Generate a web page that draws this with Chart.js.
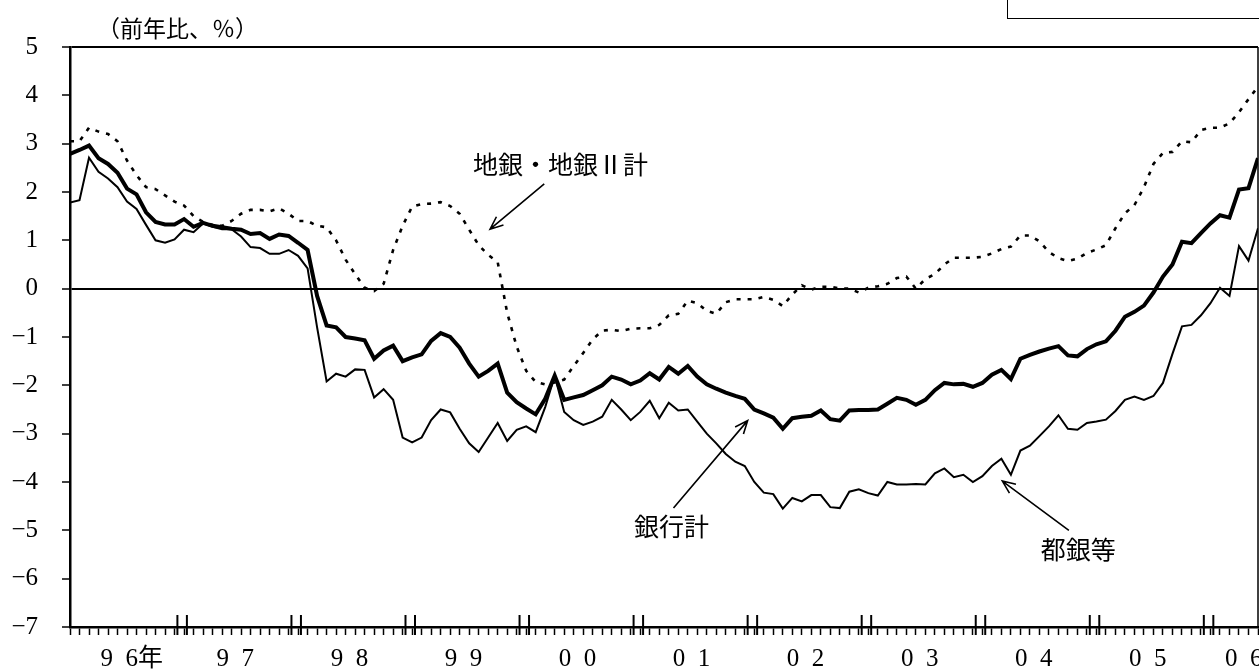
<!DOCTYPE html>
<html>
<head>
<meta charset="utf-8">
<script src="https://cdn.jsdelivr.net/npm/chart.js@4.4.1/dist/chart.umd.min.js"></script>
<style>
  html, body { margin: 0; padding: 0; background: #fff; }
  #wrap { position: relative; width: 1259px; height: 672px; overflow: hidden; }
  #unit { position: absolute; left: 97px; top: 10px; font: 23px "Noto Sans CJK JP", sans-serif; color: #000; }
  #box { position: absolute; left: 1007px; top: -4px; width: 260px; height: 21px; border: 1.5px solid #000; }
</style>
</head>
<body>
<div id="wrap">
  <canvas id="chart" width="1259" height="672"></canvas>
  <div id="unit">（前年比、％）</div>
  <div id="box"></div>
</div>
<script>
// monthly, 1996/01 - 2006/06
const years = ['96年', '97', '98', '99', '00', '01', '02', '03', '04', '05', '06'];

// 銀行計
const bankTotal = [
  2.79, 2.87, 2.96, 2.70, 2.58, 2.40, 2.07, 1.95, 1.58, 1.38, 1.33, 1.33,
  1.44, 1.28, 1.36, 1.30, 1.27, 1.24, 1.22, 1.13, 1.15, 1.03, 1.12, 1.09,
  0.95, 0.80, -0.15, -0.76, -0.80, -1.00, -1.03, -1.07, -1.45, -1.28, -1.18, -1.50,
  -1.42, -1.36, -1.08, -0.92, -1.00, -1.22, -1.55, -1.82, -1.70, -1.55, -2.15, -2.35,
  -2.48, -2.60, -2.28, -1.80, -2.30, -2.25, -2.20, -2.10, -2.00, -1.82, -1.88, -1.98,
  -1.90, -1.75, -1.88, -1.62, -1.76, -1.60, -1.82, -1.98, -2.07, -2.15, -2.22, -2.28,
  -2.50, -2.58, -2.67, -2.90, -2.68, -2.65, -2.63, -2.52, -2.70, -2.73, -2.52, -2.51,
  -2.51, -2.50, -2.38, -2.26, -2.30, -2.40, -2.30, -2.10, -1.95, -1.98, -1.97, -2.03,
  -1.95, -1.78, -1.68, -1.87, -1.45, -1.37, -1.30, -1.24, -1.19, -1.38, -1.40, -1.25,
  -1.15, -1.09, -0.87, -0.58, -0.48, -0.35, -0.08, 0.25, 0.50, 0.97, 0.94, 1.15,
  1.35, 1.52, 1.47, 2.05, 2.08, 2.70
];

// 都銀等
const cityBanks = [
  1.78, 1.83, 2.71, 2.42, 2.28, 2.10, 1.80, 1.65, 1.32, 1.00, 0.95, 1.02,
  1.22, 1.17, 1.35, 1.28, 1.23, 1.23, 1.08, 0.86, 0.84, 0.72, 0.72, 0.80,
  0.68, 0.42, -0.80, -1.92, -1.76, -1.82, -1.67, -1.68, -2.25, -2.08, -2.30, -3.08,
  -3.18, -3.08, -2.72, -2.50, -2.56, -2.90, -3.20, -3.38, -3.08, -2.78, -3.15, -2.92,
  -2.85, -2.97, -2.45, -1.80, -2.55, -2.72, -2.82, -2.75, -2.65, -2.30, -2.50, -2.72,
  -2.55, -2.32, -2.68, -2.36, -2.52, -2.50, -2.75, -3.00, -3.20, -3.42, -3.58, -3.67,
  -4.00, -4.22, -4.25, -4.55, -4.33, -4.40, -4.27, -4.27, -4.52, -4.54, -4.20, -4.15,
  -4.23, -4.28, -4.00, -4.05, -4.05, -4.04, -4.05, -3.82, -3.72, -3.90, -3.85, -4.00,
  -3.88, -3.67, -3.52, -3.85, -3.35, -3.25, -3.05, -2.85, -2.62, -2.90, -2.92, -2.78,
  -2.75, -2.71, -2.53, -2.30, -2.23, -2.30, -2.22, -1.95, -1.35, -0.78, -0.75, -0.55,
  -0.30, 0.02, -0.15, 0.88, 0.58, 1.25
];

// 地銀・地銀II計
const regionalBanks = [
  3.05, 3.05, 3.33, 3.25, 3.20, 3.05, 2.65, 2.35, 2.10, 2.06, 1.93, 1.80,
  1.72, 1.50, 1.38, 1.32, 1.30, 1.40, 1.55, 1.63, 1.63, 1.60, 1.66, 1.55,
  1.40, 1.40, 1.30, 1.27, 1.00, 0.60, 0.30, 0.02, -0.05, 0.10, 0.80, 1.30,
  1.70, 1.75, 1.76, 1.79, 1.71, 1.55, 1.22, 0.90, 0.70, 0.55, -0.50, -1.20,
  -1.70, -1.93, -1.98, -1.94, -1.88, -1.60, -1.33, -1.05, -0.87, -0.85, -0.88, -0.83,
  -0.82, -0.82, -0.75, -0.55, -0.52, -0.25, -0.30, -0.46, -0.52, -0.28, -0.22, -0.22,
  -0.22, -0.17, -0.23, -0.36, -0.12, 0.07, -0.02, 0.04, 0.04, 0.00, 0.00, -0.08,
  0.02, 0.05, 0.10, 0.22, 0.25, 0.00, 0.20, 0.30, 0.50, 0.64, 0.64, 0.64,
  0.66, 0.73, 0.82, 0.87, 1.10, 1.10, 0.98, 0.76, 0.63, 0.57, 0.62, 0.74,
  0.81, 0.90, 1.25, 1.56, 1.73, 2.10, 2.58, 2.81, 2.83, 3.05, 3.03, 3.28,
  3.33, 3.33, 3.42, 3.65, 3.92, 4.18
];

const lastIdx = bankTotal.length - 1;
const toXY = arr => arr.map((v, i) => ({ x: i, y: v }));

// where the year labels sit (month index)
const yearLabelPos = years.map((y, k) => k === 0 ? 6.5 : Math.min(12 * k + 5.4, lastIdx - 1.5));
const labelAt = {};
yearLabelPos.forEach((p, k) => { labelAt[p.toFixed(2)] = years[k].replace(/(\d)(\d)/, '$1\u2002$2'); });

const annotations = [
  { text: '地銀・地銀Ⅱ計', at: [51.6, 2.56], from: [49.9, 2.17], to: [44.2, 1.23] },
  { text: '銀行計', at: [63.3, -4.92], from: [63.5, -4.54], to: [71.3, -2.73] },
  { text: '都銀等', at: [106.1, -5.40], from: [105.1, -5.0], to: [98.1, -3.98] }
];

const extrasPlugin = {
  id: 'extras',
  afterDatasetsDraw(chart) {
    const { ctx, scales: { x, y }, chartArea } = chart;
    ctx.save();
    // tall double ticks at each year boundary
    ctx.strokeStyle = '#000';
    ctx.lineWidth = 2;
    for (let k = 0; k < years.length - 1; k++) {
      [11.3, 12.3].forEach(d => {
        const px = x.getPixelForValue(12 * k + d);
        ctx.beginPath();
        ctx.moveTo(px, chartArea.bottom - 12);
        ctx.lineTo(px, chartArea.bottom + 8);
        ctx.stroke();
      });
    }
    // right frame
    ctx.lineWidth = 1.5;
    ctx.beginPath();
    ctx.moveTo(chartArea.right, chartArea.top);
    ctx.lineTo(chartArea.right, chartArea.bottom);
    ctx.stroke();

    // labels with arrows
    ctx.fillStyle = '#000';
    ctx.font = '25px "Noto Sans CJK JP", sans-serif';
    ctx.textAlign = 'center';
    ctx.textBaseline = 'middle';
    ctx.lineWidth = 1.6;
    annotations.forEach(a => {
      ctx.fillText(a.text, x.getPixelForValue(a.at[0]), y.getPixelForValue(a.at[1]));
      const x1 = x.getPixelForValue(a.from[0]), y1 = y.getPixelForValue(a.from[1]);
      const x2 = x.getPixelForValue(a.to[0]), y2 = y.getPixelForValue(a.to[1]);
      const ang = Math.atan2(y2 - y1, x2 - x1);
      const head = 14;
      ctx.beginPath();
      ctx.moveTo(x1, y1);
      ctx.lineTo(x2, y2);
      ctx.moveTo(x2 - head * Math.cos(ang - 0.4), y2 - head * Math.sin(ang - 0.4));
      ctx.lineTo(x2, y2);
      ctx.lineTo(x2 - head * Math.cos(ang + 0.4), y2 - head * Math.sin(ang + 0.4));
      ctx.stroke();
    });
    ctx.restore();
  }
};

new Chart(document.getElementById('chart').getContext('2d'), {
  type: 'line',
  data: {
    datasets: [
      {
        label: '地銀・地銀II計',
        data: toXY(regionalBanks),
        borderColor: '#000',
        borderWidth: 2.6,
        borderDash: [4, 7],
        pointRadius: 0,
        tension: 0
      },
      {
        label: '都銀等',
        data: toXY(cityBanks),
        borderColor: '#000',
        borderWidth: 2,
        pointRadius: 0,
        tension: 0
      },
      {
        label: '銀行計',
        data: toXY(bankTotal),
        borderColor: '#000',
        borderWidth: 4,
        pointRadius: 0,
        tension: 0
      }
    ]
  },
  options: {
    responsive: false,
    animation: false,
    devicePixelRatio: 1,
    layout: { padding: { top: 47, right: 1, left: 0, bottom: 0 } },
    plugins: {
      legend: { display: false },
      tooltip: { enabled: false }
    },
    scales: {
      x: {
        type: 'linear',
        min: 0,
        max: lastIdx,
        afterBuildTicks: scale => {
          const vals = [];
          for (let i = 0; i <= lastIdx; i++) vals.push(i);
          yearLabelPos.forEach(p => vals.push(p));
          vals.sort((a, b) => a - b);
          scale.ticks = vals.map(v => ({ value: v }));
        },
        afterFit: scale => {
          scale.height = 45;
          scale.paddingLeft = 0;
          scale.paddingRight = 0;
        },
        border: { display: true, color: '#000', width: 2.5 },
        grid: {
          drawOnChartArea: false,
          tickLength: 8,
          tickWidth: 1.5,
          tickColor: c => (c.tick && Number.isInteger(c.tick.value)) ? '#000' : 'rgba(0,0,0,0)'
        },
        ticks: {
          autoSkip: false,
          maxRotation: 0,
          padding: 9,
          color: '#000',
          font: { family: '"Liberation Serif", "Noto Sans CJK JP", serif', size: 25 },
          callback: v => labelAt[Number(v).toFixed(2)] || ''
        }
      },
      y: {
        min: -7,
        max: 5,
        afterFit: scale => { scale.width = 70; },
        border: { display: true, color: '#000', width: 2.5 },
        grid: {
          drawOnChartArea: true,
          color: c => (c.tick.value === 0 || c.tick.value === 5) ? '#000' : 'rgba(0,0,0,0)',
          lineWidth: 2,
          tickLength: 8,
          tickWidth: 1.5,
          tickColor: '#000'
        },
        ticks: {
          stepSize: 1,
          padding: 24,
          color: '#000',
          font: { family: '"Liberation Serif", serif', size: 25 },
          callback: v => v < 0 ? '\u2212' + Math.abs(v) : String(v)
        }
      }
    }
  },
  plugins: [extrasPlugin]
});
</script>
</body>
</html>
